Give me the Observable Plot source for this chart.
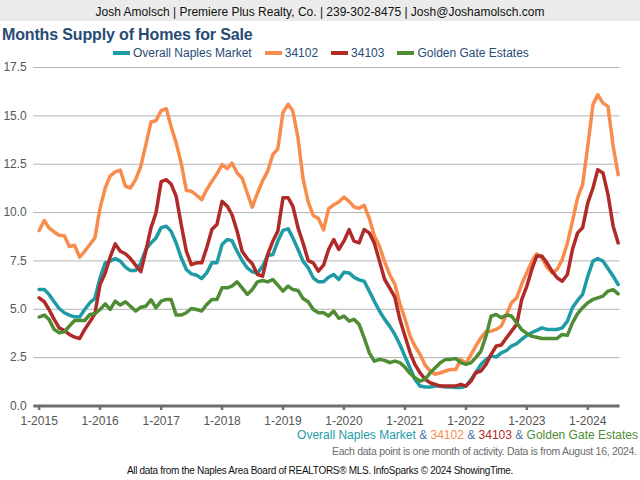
<!DOCTYPE html>
<html>
<head>
<meta charset="utf-8">
<script src="https://cdn.jsdelivr.net/npm/d3@7"></script>
<script src="https://cdn.jsdelivr.net/npm/@observablehq/plot@0.6"></script>
<style>
  html, body { margin: 0; padding: 0; background: #fff; }
  #page { position: relative; width: 640px; height: 480px; overflow: hidden; font-family: "Liberation Sans", Arial, sans-serif; }
  .abs { position: absolute; white-space: nowrap; line-height: 1; }
  #header { position: absolute; left: 0; top: 0; width: 640px; height: 21px; background: #ebebeb; }
  #chart { position: absolute; left: 0; top: 0; }
  .sw { display: inline-block; width: 17px; height: 3.5px; margin-right: 3px; vertical-align: middle; position: relative; top: -1px; }
  .item { display: inline-block; margin-right: 13px; }
</style>
</head>
<body>
<div id="page">
  <div id="header"></div>
  <div id="chart"></div>
  <div class="abs" id="htext" style="left:0;width:640px;text-align:center;top:5.8px;font-size:12px;color:#111;"></div>
  <div class="abs" id="title" style="left:2px;top:26.5px;font-size:16px;font-weight:bold;color:#284b73;letter-spacing:-0.15px;"></div>
  <div class="abs" id="legend" style="left:113px;top:47.3px;font-size:12px;color:#284b73;"></div>
  <div class="abs" id="blegend" style="right:2px;top:428.8px;font-size:12px;color:#4a72a8;"></div>
  <div class="abs" id="note" style="right:3.3px;top:446px;font-size:10.5px;letter-spacing:-0.3px;color:#6b6b6b;"></div>
  <div class="abs" id="source" style="left:0;width:640px;text-align:center;top:465.5px;font-size:10px;letter-spacing:-0.3px;color:#111;"></div>
</div>
<script>
// ---- texts ----
const headerText = "Josh Amolsch | Premiere Plus Realty, Co. | 239-302-8475 | Josh@Joshamolsch.com";
const titleText = "Months Supply of Homes for Sale";
const noteText = "Each data point is one month of activity. Data is from August 16, 2024.";
const sourceText = "All data from the Naples Area Board of REALTORS\u00AE MLS. InfoSparks \u00A9 2024 ShowingTime.";

// ---- series ----
const seriesNames = ["Overall Naples Market", "34102", "34103", "Golden Gate Estates"];
const seriesColors = ["#1f9ba6", "#f78c4c", "#b02a28", "#4e8d33"];
const startYear = 2015, startMonth = 0; // monthly data from Jan 2015

const overall = [6.02,6.02,5.77,5.39,5.04,4.82,4.7,4.61,4.6,4.99,5.34,5.56,
  6.63,7.4,7.49,7.62,7.49,7.18,7.0,7.0,7.4,8.09,8.43,8.69,
  9.22,9.29,9.04,8.43,7.66,7.06,6.83,6.76,6.59,6.88,7.4,7.4,
  8.35,8.61,8.55,8.0,7.52,7.14,6.94,6.87,7.23,7.78,7.83,8.52,
  9.08,9.16,8.69,8.09,7.49,7.14,6.63,6.42,6.42,6.66,6.8,6.54,
  6.92,6.88,6.66,6.52,6.45,5.94,5.42,4.91,4.48,4.13,3.7,3.18,
  2.55,1.95,1.38,1.03,0.98,0.98,1.03,1.03,0.98,0.98,0.95,0.95,
  1.03,1.38,1.72,2.15,2.41,2.58,2.53,2.75,2.87,3.1,3.22,3.45,
  3.65,3.8,3.91,4.04,3.96,3.96,3.96,4.04,4.39,5.08,5.46,5.77,
  6.71,7.49,7.62,7.49,7.11,6.71,6.28];
const zip34102 = [9.07,9.59,9.21,9.0,8.83,8.8,8.24,8.31,7.69,8.0,8.35,8.69,
  10.24,11.27,11.88,12.1,12.2,11.36,11.27,11.7,12.39,13.5,14.68,14.75,
  15.27,15.37,14.46,13.6,12.56,11.14,11.1,10.9,10.67,11.19,11.62,12.0,
  12.48,12.27,12.56,12.05,11.79,11.0,10.28,11.0,11.65,12.13,13.0,13.3,
  15.18,15.6,15.25,13.86,11.75,10.55,9.85,9.7,9.1,10.2,10.4,10.55,
  10.8,10.58,10.29,10.22,10.38,9.7,8.8,8.26,7.45,6.8,6.3,5.3,
  4.5,3.6,3.1,2.67,2.12,1.81,1.64,1.72,1.81,1.89,1.89,2.41,
  2.19,2.67,3.1,3.53,3.84,3.87,3.96,4.13,4.73,5.34,5.59,6.3,
  6.9,7.5,7.87,7.66,7.18,6.88,7.06,7.57,8.43,9.55,10.76,11.45,
  13.43,15.58,16.09,15.66,15.49,13.43,11.96];
const zip34103 = [5.59,5.39,4.99,4.48,4.04,3.9,3.7,3.56,3.49,3.96,4.35,4.77,
  6.28,6.88,7.69,8.38,8.0,7.87,7.62,7.28,6.94,8.0,9.21,9.98,
  11.6,11.7,11.48,10.84,9.38,8.0,7.31,7.4,7.4,8.18,9.12,9.38,
  10.58,10.33,9.9,9.04,8.0,7.62,7.35,6.8,6.71,7.83,8.52,9.04,
  10.76,10.76,10.33,9.21,8.43,7.52,7.4,6.97,7.28,8.09,8.61,8.09,
  8.52,9.12,8.52,8.43,9.12,8.95,8.43,7.49,6.54,6.11,5.63,4.48,
  3.6,2.75,2.15,1.72,1.38,1.2,1.12,1.03,1.03,1.03,1.03,1.12,
  1.03,1.29,1.72,1.81,2.15,2.67,3.1,3.15,3.53,3.87,4.22,5.5,
  6.2,7.1,7.75,7.75,7.4,6.97,6.63,6.45,6.8,8.09,8.95,9.21,
  10.5,11.27,12.22,12.05,10.93,9.29,8.43];
const goldenGate = [4.6,4.7,4.48,3.96,3.79,3.84,4.13,4.42,4.42,4.42,4.73,4.77,
  4.99,5.28,4.99,5.42,5.22,5.39,5.16,4.91,5.11,5.16,5.49,5.08,
  5.42,5.51,5.51,4.7,4.7,4.82,5.04,4.99,4.91,5.25,5.51,5.51,
  6.11,6.11,6.2,6.42,6.11,5.77,6.02,6.42,6.49,6.42,6.54,6.25,
  5.94,6.2,6.02,5.97,5.56,5.39,4.99,4.82,4.82,4.65,4.91,4.53,
  4.65,4.39,4.48,4.22,3.53,2.75,2.32,2.41,2.36,2.24,2.32,2.24,
  2.0,1.68,1.46,1.29,1.38,1.72,1.98,2.24,2.41,2.41,2.46,2.24,
  2.15,2.24,2.5,2.84,3.61,4.65,4.73,4.56,4.7,4.65,4.3,3.95,
  3.75,3.6,3.55,3.49,3.49,3.49,3.49,3.7,3.65,4.3,4.77,5.08,
  5.34,5.51,5.59,5.68,5.94,6.02,5.8];

// ---- axes ----
const yTicks = [0, 2.5, 5, 7.5, 10, 12.5, 15, 17.5];
const xTickYears = [2015, 2016, 2017, 2018, 2019, 2020, 2021, 2022, 2023, 2024];
const xDomain = [new Date(Date.UTC(2014, 10, 30)), new Date(Date.UTC(2024, 6, 12))];

// ---- build table ----
const seriesValues = [overall, zip34102, zip34103, goldenGate];
const table = [];
seriesValues.forEach((vals, s) => {
  vals.forEach((v, i) => {
    table.push({ date: new Date(Date.UTC(startYear, startMonth + i, 1)), value: v, series: seriesNames[s] });
  });
});
const xTicks = xTickYears.map(y => new Date(Date.UTC(y, 0, 1)));

const chart = Plot.plot({
  width: 640,
  height: 430,
  marginTop: 67,
  marginBottom: 24.5,
  marginLeft: 33.3,
  marginRight: 20.5,
  style: { fontFamily: "'Liberation Sans', Arial, sans-serif", fontSize: "12px", background: "transparent", overflow: "visible" },
  x: { type: "utc", domain: xDomain },
  y: { domain: [0, 17.5] },
  color: { domain: seriesNames, range: seriesColors },
  marks: [
    Plot.gridY(yTicks, { stroke: "#b3b3b3", strokeOpacity: 1, strokeWidth: 1 }),
    Plot.axisY(yTicks, { tickSize: 0, tickPadding: 7, tickFormat: d3.format(".1f"), color: "#555", label: null }),
    Plot.ruleY([0], { stroke: "#6e6e6e", strokeWidth: 3 }),
    Plot.axisX(xTicks, { tickSize: 4.5, tickPadding: 6, stroke: "#6e6e6e", strokeWidth: 2.5, fill: "#555", tickFormat: d => `1-${d.getUTCFullYear()}`, label: null }),
    Plot.line(table, { x: "date", y: "value", z: "series", stroke: "series", strokeWidth: 3.5, curve: "linear" })
  ]
});
document.getElementById("chart").appendChild(chart);

// ---- html texts ----
document.getElementById("htext").textContent = headerText;
document.getElementById("title").textContent = titleText;
document.getElementById("note").textContent = noteText;
document.getElementById("source").textContent = sourceText;

const legend = document.getElementById("legend");
seriesNames.forEach((name, i) => {
  const item = document.createElement("span");
  item.className = "item";
  const sw = document.createElement("span");
  sw.className = "sw";
  sw.style.background = seriesColors[i];
  item.appendChild(sw);
  item.appendChild(document.createTextNode(name));
  legend.appendChild(item);
});

const bl = document.getElementById("blegend");
seriesNames.forEach((name, i) => {
  if (i > 0) bl.appendChild(document.createTextNode(" & "));
  const s = document.createElement("span");
  s.style.color = seriesColors[i];
  s.textContent = name;
  bl.appendChild(s);
});
</script>
</body>
</html>
